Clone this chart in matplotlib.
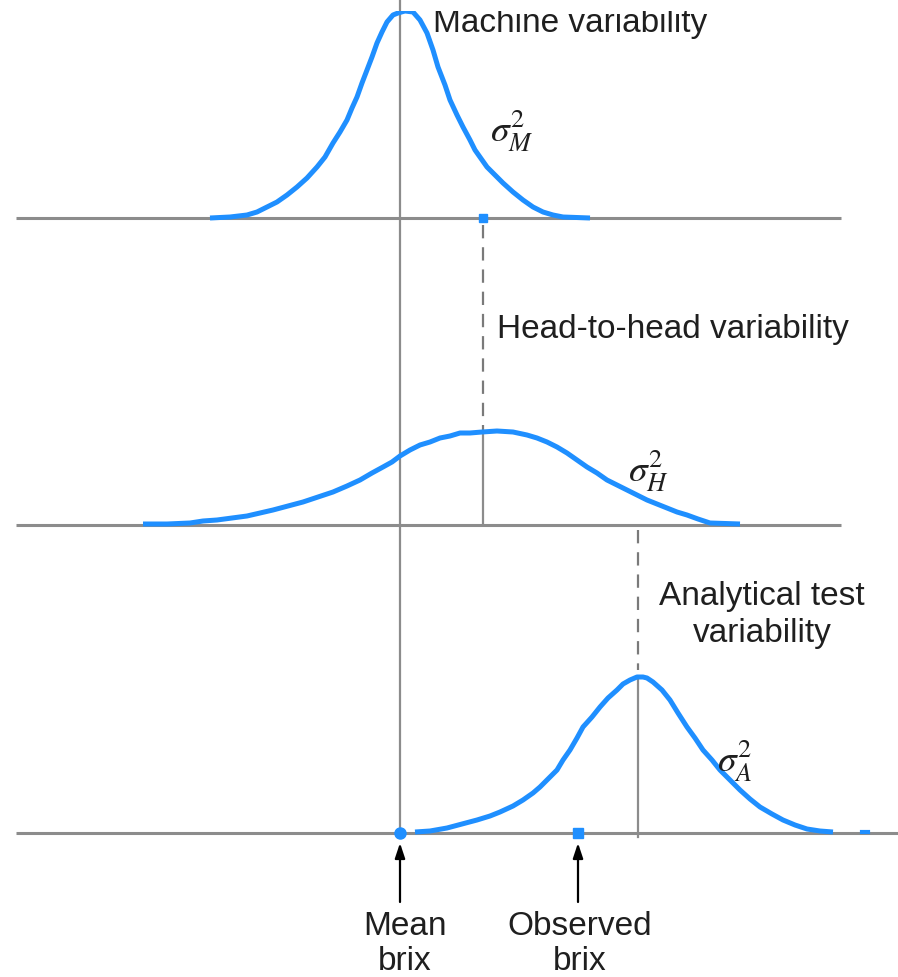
import matplotlib
matplotlib.use("Agg")
import matplotlib.pyplot as plt
from matplotlib import font_manager
from matplotlib.transforms import Bbox, TransformedBbox

# Brix scale: mean brix at 0, positions of the means along the line
mean_brix = 0.0
head_mean = 0.83
test_mean = 2.38
observed_brix = 1.78

# Baseline of each stacked panel (top: machine, middle: head, bottom: test)
level_machine = 6.15
level_head = 3.08
level_test = 0.0

# Machine variability curve (sharp peak), heights above its baseline
machine_x = [-1.90, -1.70, -1.53, -1.43, -1.33, -1.23, -1.13, -1.03, -0.93, -0.83,
             -0.75, -0.67, -0.60, -0.53, -0.48, -0.43, -0.38, -0.33, -0.28, -0.23,
             -0.18, -0.13, -0.07, -0.02, 0.05, 0.13, 0.20, 0.27, 0.33, 0.38,
             0.45, 0.50, 0.57, 0.63, 0.70, 0.75, 0.87, 0.97, 1.03, 1.13,
             1.23, 1.33, 1.43, 1.53, 1.63, 1.90]
machine_h = [0.00, 0.01, 0.03, 0.06, 0.11, 0.16, 0.23, 0.31, 0.40, 0.51,
             0.61, 0.75, 0.86, 0.98, 1.10, 1.21, 1.35, 1.48, 1.61, 1.75,
             1.86, 1.96, 2.03, 2.05, 2.07, 2.06, 1.98, 1.85, 1.68, 1.51,
             1.33, 1.18, 1.03, 0.91, 0.78, 0.68, 0.51, 0.41, 0.35, 0.26,
             0.18, 0.11, 0.06, 0.03, 0.01, 0.00]

# Head-to-head variability curve (wide and flat)
head_x = [-2.57, -2.33, -2.10, -1.97, -1.83, -1.68, -1.53, -1.40, -1.27, -1.12,
          -0.97, -0.82, -0.67, -0.53, -0.40, -0.28, -0.17, -0.08, 0.00, 0.10,
          0.20, 0.30, 0.40, 0.50, 0.60, 0.70, 0.82, 0.97, 1.13, 1.27,
          1.37, 1.47, 1.57, 1.67, 1.77, 1.87, 1.97, 2.07, 2.17, 2.27,
          2.37, 2.47, 2.57, 2.67, 2.77, 2.87, 2.98, 3.10, 3.40]
head_h = [0.01, 0.01, 0.02, 0.04, 0.05, 0.07, 0.09, 0.12, 0.15, 0.19,
          0.23, 0.28, 0.33, 0.39, 0.45, 0.52, 0.58, 0.63, 0.69, 0.75,
          0.80, 0.83, 0.87, 0.89, 0.92, 0.92, 0.93, 0.94, 0.93, 0.90,
          0.87, 0.83, 0.78, 0.72, 0.65, 0.58, 0.52, 0.45, 0.40, 0.35,
          0.30, 0.25, 0.21, 0.17, 0.13, 0.10, 0.06, 0.02, 0.01]

# Analytical test variability curve
test_x = [0.15, 0.30, 0.47, 0.62, 0.77, 0.90, 1.00, 1.13, 1.23, 1.33,
          1.40, 1.48, 1.57, 1.63, 1.70, 1.77, 1.83, 1.92, 2.00, 2.08,
          2.17, 2.23, 2.30, 2.37, 2.43, 2.47, 2.53, 2.62, 2.70, 2.78,
          2.87, 2.95, 3.03, 3.12, 3.20, 3.30, 3.40, 3.50, 3.60, 3.72,
          3.83, 3.95, 4.07, 4.20, 4.33]
test_h = [0.01, 0.02, 0.05, 0.09, 0.13, 0.17, 0.21, 0.27, 0.33, 0.40,
          0.46, 0.54, 0.63, 0.73, 0.83, 0.95, 1.06, 1.16, 1.26, 1.35,
          1.43, 1.49, 1.53, 1.56, 1.56, 1.55, 1.51, 1.43, 1.33, 1.20,
          1.06, 0.95, 0.83, 0.73, 0.63, 0.53, 0.43, 0.34, 0.26, 0.19,
          0.13, 0.08, 0.04, 0.02, 0.01]
test_tail_x = [4.62, 4.68]
test_tail_h = [0.01, 0.01]

BLUE = "#1f8fff"
GRAY = "#8c8c8c"
TEXT = "#1f1f1f"
FS = 24

# condensed sans if one is around
available = {f.name for f in font_manager.fontManager.ttflist}
label_font = "DejaVu Sans"
for name in ["Liberation Sans Narrow", "DejaVu Sans Condensed", "Liberation Sans"]:
    if name in available:
        label_font = name
        break
plt.rcParams["font.family"] = [label_font, "DejaVu Sans"]
plt.rcParams["mathtext.fontset"] = "stix"

fig = plt.figure(figsize=(8.98, 9.77), dpi=100)
ax = fig.add_axes([0, 0, 1, 1])
ax.set_xlim(-4.0, 4.98)
ax.set_ylim(-1.44, 8.33)
ax.axis("off")

# everything except the mean line is cut a little below the top edge
top_clip = TransformedBbox(Bbox([[-4.0, -1.44], [4.98, 8.22]]), ax.transData)

# baselines
ax.plot([-3.84, 4.41], [level_machine, level_machine], color=GRAY, lw=2.2, solid_capstyle="butt")
ax.plot([-3.84, 4.41], [level_head, level_head], color=GRAY, lw=2.2, solid_capstyle="butt")
ax.plot([-3.84, 4.98], [level_test, level_test], color=GRAY, lw=2.2, solid_capstyle="butt")

# vertical reference lines
dash = (0, (6.0, 4.0))
ax.plot([mean_brix, mean_brix], [level_test, 8.33], color=GRAY, lw=1.6)
ax.plot([head_mean, head_mean], [level_machine - 0.07, level_head + 0.95],
        color="#7a7a7a", lw=1.6, linestyle=dash)
ax.plot([head_mean, head_mean], [level_head + 0.93, level_head], color=GRAY, lw=1.6)
ax.plot([test_mean, test_mean], [level_head - 0.05, level_test + 1.63],
        color="#7a7a7a", lw=1.6, linestyle=dash)
ax.plot([test_mean, test_mean], [level_test + 1.56, level_test - 0.04], color=GRAY, lw=1.6)

# the three distributions
line, = ax.plot(machine_x, [level_machine + h for h in machine_h], color=BLUE, lw=3.6,
                solid_joinstyle="round", solid_capstyle="butt")
line.set_clip_box(top_clip)
ax.plot(head_x, [level_head + h for h in head_h], color=BLUE, lw=3.6,
        solid_joinstyle="round", solid_capstyle="butt")
ax.plot(test_x, [level_test + h for h in test_h], color=BLUE, lw=3.6,
        solid_joinstyle="round", solid_capstyle="butt")
ax.plot(test_tail_x, test_tail_h, color=BLUE, lw=3.0)

# markers on the baselines
ax.plot([head_mean], [level_machine], marker="s", ms=5.5, color=BLUE, mec=BLUE)
ax.plot([mean_brix], [level_test], marker="o", ms=8, color=BLUE, mec=BLUE)
ax.plot([observed_brix], [level_test], marker="s", ms=7, color=BLUE, mec=BLUE)

# arrows from the labels below
for xpos in [mean_brix, observed_brix]:
    ax.annotate("", xy=(xpos, -0.10), xytext=(xpos, -0.69),
                arrowprops=dict(arrowstyle="-|>,head_length=0.9,head_width=0.3",
                                color="black", lw=1.6, shrinkA=0, shrinkB=0))

# text labels
title = ax.text(0.33, 8.01, "Machine variability", fontsize=FS, color=TEXT, ha="left", va="baseline")
title.set_clip_box(top_clip)
title.set_clip_on(True)
ax.text(0.97, 4.95, "Head-to-head variability", fontsize=FS, color=TEXT, ha="left", va="baseline")
ax.text(3.62, 2.28, "Analytical test", fontsize=FS, color=TEXT, ha="center", va="baseline")
ax.text(3.62, 1.91, "variability", fontsize=FS, color=TEXT, ha="center", va="baseline")
ax.text(0.05, -1.02, "Mean", fontsize=FS, color=TEXT, ha="center", va="baseline")
ax.text(0.05, -1.37, "brix", fontsize=FS, color=TEXT, ha="center", va="baseline")
ax.text(1.80, -1.02, "Observed", fontsize=FS, color=TEXT, ha="center", va="baseline")
ax.text(1.80, -1.37, "brix", fontsize=FS, color=TEXT, ha="center", va="baseline")

# variance symbols
ax.text(0.90, 6.91, r"$\sigma^{2}_{M}$", fontsize=27, color=TEXT, ha="left", va="baseline")
ax.text(2.28, 3.51, r"$\sigma^{2}_{H}$", fontsize=27, color=TEXT, ha="left", va="baseline")
ax.text(3.17, 0.61, r"$\sigma^{2}_{A}$", fontsize=27, color=TEXT, ha="left", va="baseline")

fig.savefig("out.png", dpi=100)
